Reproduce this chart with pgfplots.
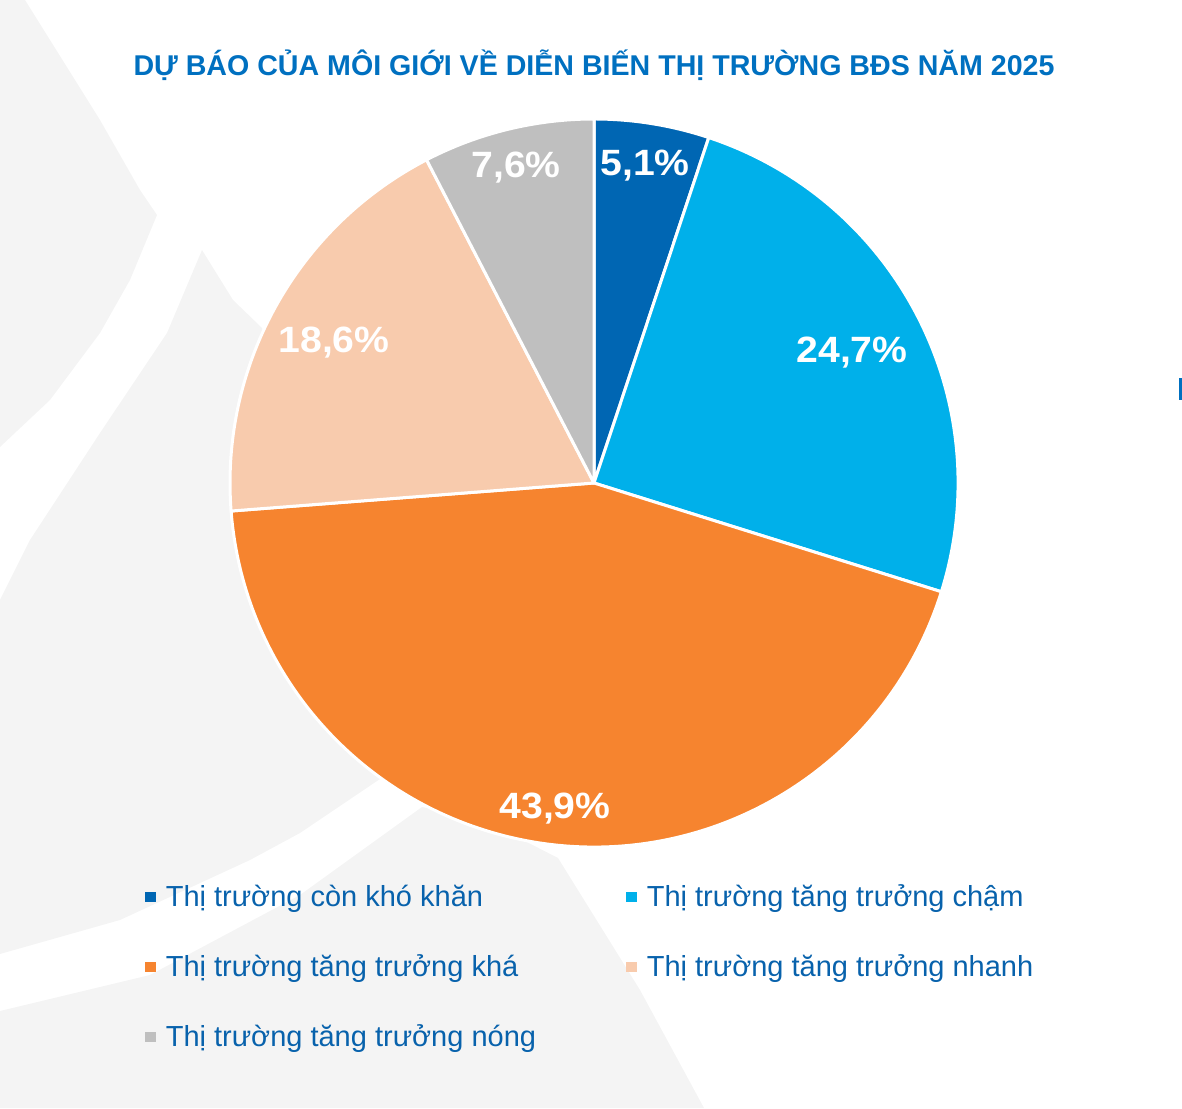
\documentclass[border=0pt]{standalone}
\usepackage{fontspec}
\setmainfont{Liberation Sans}
\newfontfamily\labelfont{Liberation Sans}[FakeStretch=1.07]
\usepackage{pgfplots}
\pgfplotsset{compat=1.18}
\definecolor{cA}{HTML}{0066B3}
\definecolor{cB}{HTML}{00B0EA}
\definecolor{cC}{HTML}{F6842F}
\definecolor{cD}{HTML}{F8CBAD}
\definecolor{cE}{HTML}{BFBFBF}
\definecolor{titleblue}{HTML}{0070C0}
\definecolor{legblue}{HTML}{0862AC}
\definecolor{bgtex}{HTML}{F4F4F4}
% shares (percent), clockwise from the top
\def\valA{5.1}\def\valB{24.7}\def\valC{43.9}\def\valD{18.6}\def\valE{7.6}
\pgfmathsetmacro\valT{\valA+\valB+\valC+\valD+\valE}
\pgfmathsetmacro\angA{90}
\pgfmathsetmacro\angB{90-(\valA)/\valT*360}
\pgfmathsetmacro\angC{90-(\valA+\valB)/\valT*360}
\pgfmathsetmacro\angD{90-(\valA+\valB+\valC)/\valT*360}
\pgfmathsetmacro\angE{90-(\valA+\valB+\valC+\valD)/\valT*360}
\pgfmathsetmacro\angF{90-360}
\newcommand\pieslice[3]{\filldraw[fill=#3, draw=white, line width=1.5pt, line join=round]
      (axis cs:594,625) -- ++(#1:182pt) arc[start angle=#1, end angle=#2, radius=182pt] -- cycle;}
\tikzset{pct/.style={font=\labelfont\bfseries\fontsize{18.3pt}{22pt}\selectfont, text=white, anchor=base, inner sep=0pt}}
\begin{document}
\begin{tikzpicture}
\begin{axis}[
  width=591pt, height=554pt, scale only axis,
  xmin=0, xmax=1182, ymin=0, ymax=1108,
  hide axis, clip=false,
  legend columns=2,
  legend cell align=left,
  legend style={at={(0.12267,0.20126)}, anchor=north west, draw=none, fill=none,
    inner sep=0pt, outer sep=0pt, row sep=21pt,
    font=\fontsize{14.5pt}{17pt}\selectfont,
    nodes={text=legblue, inner xsep=5pt, inner ysep=0pt, text height=10.5pt, text depth=3.5pt},
    /tikz/every even column/.append style={column sep=40pt}},
]
% bounding box
\path (axis cs:0,0) rectangle (axis cs:1182,1108);
% faint textured background shapes
\fill[bgtex] (axis cs:0,1108) -- (axis cs:25,1108) -- (axis cs:100,988) -- (axis cs:140,918) -- (axis cs:157,893) -- (axis cs:130,828) -- (axis cs:100,775) -- (axis cs:50,708) -- (axis cs:0,661) -- cycle;
\fill[bgtex] (axis cs:202,858) -- (axis cs:233,808) -- (axis cs:262,780) -- (axis cs:330,600) -- (axis cs:380,329) -- (axis cs:300,275) -- (axis cs:250,248) -- (axis cs:120,188) -- (axis cs:0,154) -- (axis cs:0,508) -- (axis cs:30,568) -- (axis cs:100,675) -- (axis cs:167,775) -- cycle;
\fill[bgtex] (axis cs:0,97) -- (axis cs:150,133) -- (axis cs:300,213) -- (axis cs:422,301) -- (axis cs:480,290) -- (axis cs:558,250) -- (axis cs:640,118) -- (axis cs:704,0) -- (axis cs:0,0) -- cycle;
\fill[titleblue] (axis cs:1179,708) rectangle (axis cs:1182,730);
% pie slices
\pieslice{\angA}{\angB}{cA}
\pieslice{\angB}{\angC}{cB}
\pieslice{\angC}{\angD}{cC}
\pieslice{\angD}{\angE}{cD}
\pieslice{\angE}{\angF}{cE}
% title
\node[font=\bfseries\fontsize{14.3pt}{17pt}\selectfont, text=titleblue, anchor=base]
  at (axis cs:594,1032) {DỰ BÁO CỦA MÔI GIỚI VỀ DIỄN BIẾN THỊ TRƯỜNG BĐS NĂM 2025};
% percentage labels
\node[pct] at (axis cs:645,932) {5,1\%};
\node[pct] at (axis cs:852,745) {24,7\%};
\node[pct] at (axis cs:555,289) {43,9\%};
\node[pct] at (axis cs:334,755) {18,6\%};
\node[pct] at (axis cs:516,930) {7,6\%};
% legend
\addlegendimage{legend image code/.code={\fill[cA] (0pt,-1pt) rectangle (5pt,3.5pt);}}
\addlegendentry{Thị trường còn khó khăn}
\addlegendimage{legend image code/.code={\fill[cB] (0pt,-1pt) rectangle (5pt,3.5pt);}}
\addlegendentry{Thị trường tăng trưởng chậm}
\addlegendimage{legend image code/.code={\fill[cC] (0pt,-1pt) rectangle (5pt,3.5pt);}}
\addlegendentry{Thị trường tăng trưởng khá}
\addlegendimage{legend image code/.code={\fill[cD] (0pt,-1pt) rectangle (5pt,3.5pt);}}
\addlegendentry{Thị trường tăng trưởng nhanh}
\addlegendimage{legend image code/.code={\fill[cE] (0pt,-1pt) rectangle (5pt,3.5pt);}}
\addlegendentry{Thị trường tăng trưởng nóng}
\end{axis}
\end{tikzpicture}
\end{document}
